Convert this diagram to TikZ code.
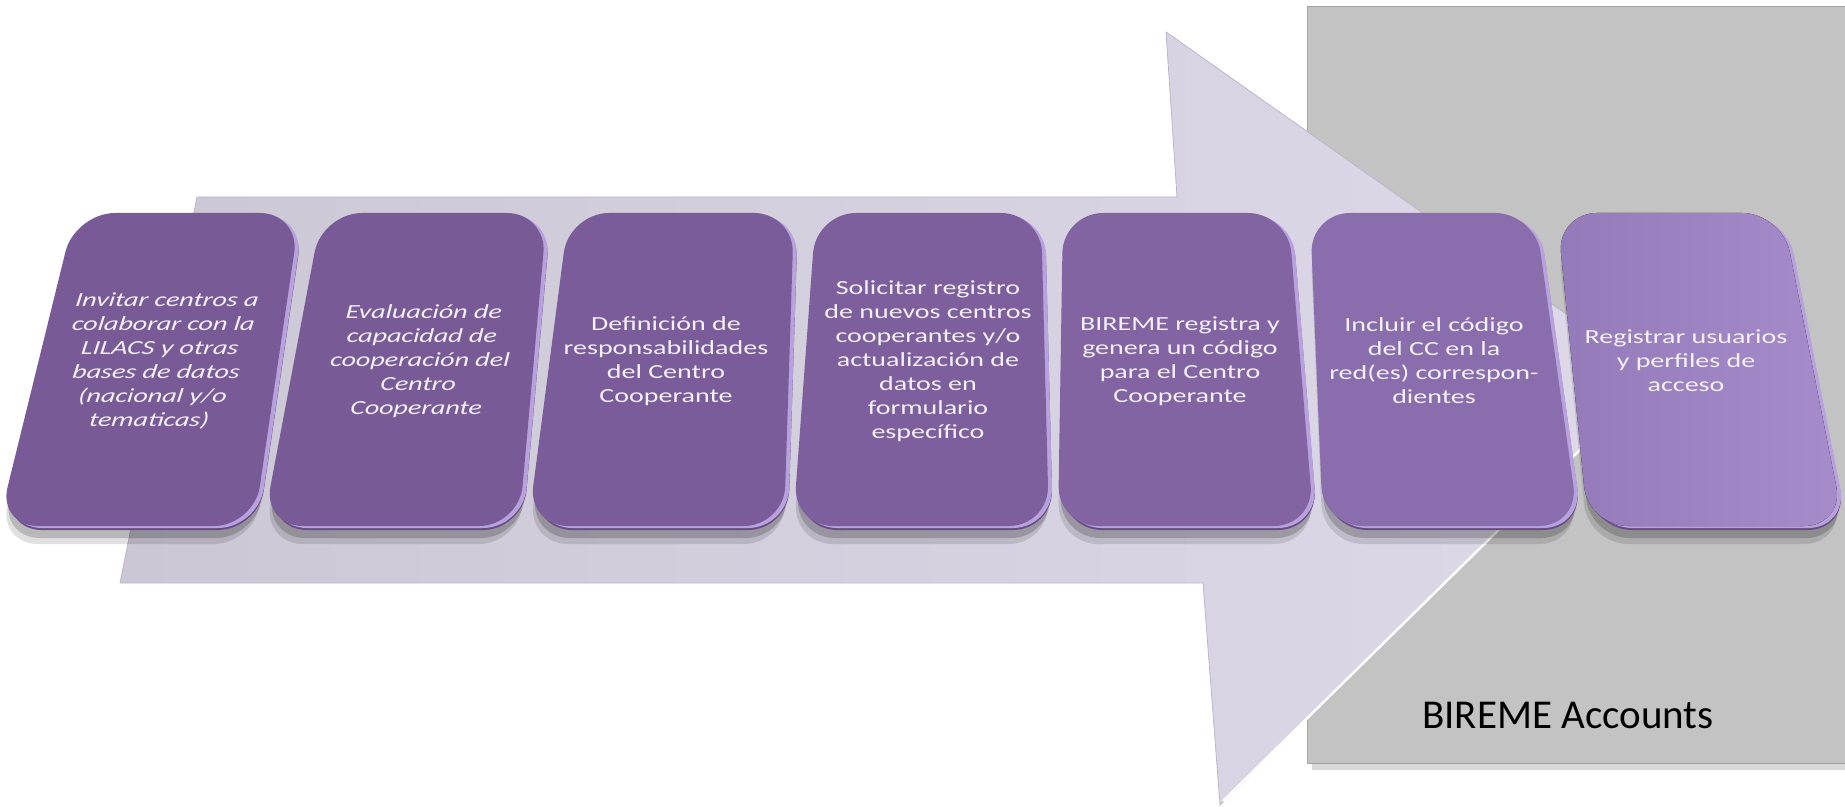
\documentclass[tikz,border=0pt]{standalone}
\usepackage{fontspec}
\setmainfont{Carlito}
\newfontfamily\cardfont[FakeStretch=1.4]{Carlito}
\usepackage{tikz}

\definecolor{boxgray}{HTML}{C3C3C3}
\definecolor{boxline}{HTML}{A6A6A6}
\definecolor{arrowleft}{HTML}{CCC7D4}
\definecolor{arrowright}{HTML}{DED9E9}
\definecolor{arrowline}{HTML}{BDB6CA}
\definecolor{rimdark}{HTML}{684C85}
\definecolor{rimlight}{HTML}{B7A2DE}
\definecolor{cardtext}{HTML}{F3F0F7}
\definecolor{cA}{HTML}{785A97}
\definecolor{cB}{HTML}{7A5C9A}
\definecolor{cC}{HTML}{7D5F9D}
\definecolor{cD}{HTML}{8264A3}
\definecolor{cE}{HTML}{8A6DAD}
\definecolor{cF}{HTML}{957ABA}
\definecolor{cG}{HTML}{A78CCB}

\begin{document}
\begin{tikzpicture}[x=0.5pt,y=-0.5pt,
  steptext/.style={align=center,text=cardtext,inner sep=0pt,
    font=\cardfont\fontsize{10pt}{12pt}\selectfont},
  stepital/.style={steptext,font=\cardfont\itshape\fontsize{10pt}{12pt}\selectfont},
  look1/.style={fill=cA}, look2/.style={fill=cA}, look3/.style={fill=cB},
  look4/.style={fill=cC}, look5/.style={fill=cD}, look6/.style={fill=cE},
  look7/.style={left color=cF,right color=cG}]

\useasboundingbox (0,0) rectangle (1845,807);

% grey box
\fill[black,opacity=.15] (1312,12) rectangle (1850,770);
\draw[draw=boxline,fill=boxgray] (1307,6) rectangle (1850,763);
\node[font=\fontsize{20.5pt}{24pt}\selectfont,anchor=base] (accounts) at (1568,728) {BIREME Accounts};

% big arrow
\path[left color=arrowleft,right color=arrowright,draw=arrowline,line width=.4pt]
  (197,197) -- (1177,197) -- (1166,32) -- (1654,376) -- (1220,805) -- (1203,583) -- (120,583) -- cycle;
\draw[white,line width=1.2pt] (1650,381) -- (1223,801);

% cards
\foreach \i/\look in {1/look1,2/look2,3/look3,4/look4,5/look5,6/look6,7/look7} {
  \pgfmathsetmacro\tl{79+247*(\i-1)}
  \pgfmathsetmacro\tr{\tl+225}
  \pgfmathsetmacro\bl{2+265*(\i-1)}
  \pgfmathsetmacro\br{\bl+256}
  \def\card{(\tl,217) -- (\tr,217) -- (\br,530) -- (\bl,530) -- cycle}
  \fill[black,opacity=.12,rounded corners=20pt,shift={(-4,14)}] \card;
  \fill[black,opacity=.18,rounded corners=20pt,shift={(-2,8)}] \card;
  \fill[rimdark,rounded corners=20pt] \card;
  \fill[rimlight,rounded corners=20pt,shift={(0,-2)}] \card;
  \fill[\look,rounded corners=20pt,shift={(-4,-4)}] \card;
}

% texts
\node[stepital,xslant=0.15] (step1) at (158,361)
  {Invitar centros a\\colaborar con la\\LILACS y otras\\bases de datos\\(nacional y/o\\tematicas)};
\node[stepital,xslant=0.08] (step2) at (420,361)
  {Evaluación de\\capacidad de\\cooperación del\\Centro\\Cooperante};
\node[steptext] (step3) at (666,361) {Definición de\\responsabilidades\\del Centro\\Cooperante};
\node[steptext] (step4) at (928,361)
  {Solicitar registro\\de nuevos centros\\cooperantes y/o\\actualización de\\datos en\\formulario\\específico};
\node[steptext] (step5) at (1180,361) {BIREME registra y\\genera un código\\para el Centro\\Cooperante};
\node[steptext] (step6) at (1434,361) {Incluir el código\\del CC en la\\red(es) correspon-\\dientes};
\node[steptext] (step7) at (1686,361) {Registrar usuarios\\y perfiles de\\acceso};

\end{tikzpicture}
\end{document}
